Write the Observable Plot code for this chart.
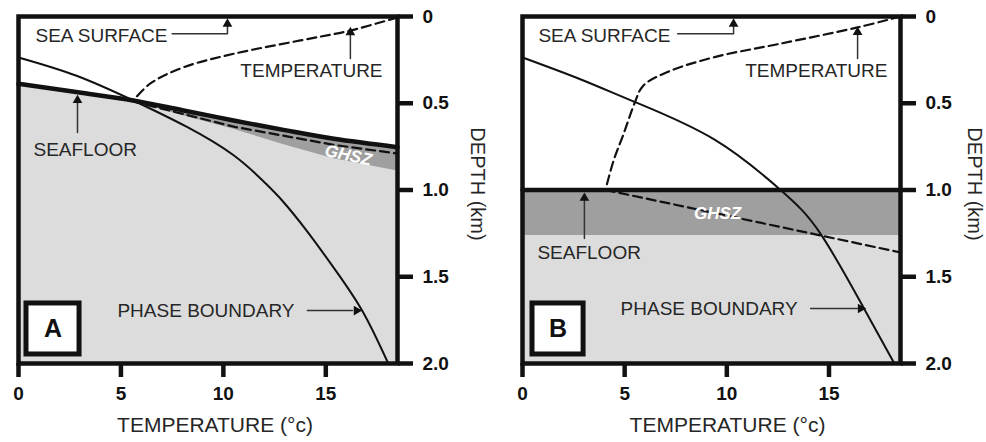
<!DOCTYPE html>
<html>
<head>
<meta charset="utf-8">
<script src="https://cdn.jsdelivr.net/npm/d3@7"></script>
<script src="https://cdn.jsdelivr.net/npm/@observablehq/plot@0.6"></script>
<style>
  html, body { margin: 0; padding: 0; background: #fff; }
  #wrap { display: flex; flex-direction: row; width: 986px; height: 442px; }
</style>
</head>
<body>
<div id="wrap"></div>
<script>
// ---------- axis ticks ----------
const tempTicks = [0, 5, 10, 15];
const depthTicks = [0, 0.5, 1.0, 1.5, 2.0];
const depthTickLabels = ["0", "0.5", "1.0", "1.5", "2.0"];
const xLabel = "TEMPERATURE (°c)";
const yLabel = "DEPTH (km)";
const panelNames = ["A", "B"];
const annotationTexts = ["SEA SURFACE", "TEMPERATURE", "SEAFLOOR", "PHASE BOUNDARY"];
const ghszText = "GHSZ";

// ---------- panel A ----------
const seafloorA_T = [0, 2.9, 5.6, 8, 10.5, 13, 15.4, 18.5];
const seafloorA_D = [0.388, 0.437, 0.484, 0.54, 0.599, 0.655, 0.705, 0.753];
const ghszA_T = [5.6, 8, 10.5, 13, 15.4, 18.5];
const ghszA_top = [0.484, 0.54, 0.599, 0.655, 0.705, 0.753];
const ghszA_bot = [0.49, 0.57, 0.65, 0.74, 0.82, 0.89];
const phaseA_T = [0, 2.8, 5.6, 8.2, 10.5, 12.0, 12.9, 14.1, 15.4, 16.8, 18.05];
const phaseA_D = [0.236, 0.34, 0.484, 0.635, 0.80, 0.955, 1.065, 1.24, 1.45, 1.70, 2.0];
const tempA_T = [18.5, 16.2, 13.76, 10.5, 8.05, 6.44, 5.6];
const tempA_D = [0.005, 0.081, 0.138, 0.215, 0.293, 0.386, 0.484];
const subTempA_T = [5.6, 10.5, 15.4, 18.5];
const subTempA_D = [0.49, 0.635, 0.74, 0.79];

// ---------- panel B ----------
const seafloorB_T = [0, 18.5];
const seafloorB_D = [1.0, 1.0];
const ghszB_T = [0, 18.5];
const ghszB_top = [1.0, 1.0];
const ghszB_bot = [1.262, 1.262];
const phaseB_T = [0, 2.8, 5.54, 9.4, 12.63, 14.59, 16.7, 18.2];
const phaseB_D = [0.236, 0.36, 0.495, 0.71, 1.0, 1.253, 1.68, 2.0];
const tempB_T = [18.5, 16.4, 12.6, 9.4, 7.1, 5.9, 5.5, 4.95, 4.46, 4.07];
const tempB_D = [0.0, 0.063, 0.157, 0.234, 0.32, 0.40, 0.495, 0.676, 0.83, 0.995];
const subTempB_T = [4.07, 14.59, 18.5];
const subTempB_D = [1.0, 1.262, 1.36];

// ---------- annotation anchors (data coords: temperature, depth) ----------
const labelA_T = [0.83, 10.83, 0.73, 4.83];
const labelA_D = [0.11, 0.311, 0.767, 1.695];
const labelB_T = [0.78, 10.9, 0.73, 4.8];
const labelB_D = [0.11, 0.311, 1.36, 1.683];
const arrowsA = [
  [[7.5, 10.2, 10.2], [0.10, 0.10, 0.05]],
  [[16.2, 16.2], [0.242, 0.10]],
  [[2.88, 2.88], [0.669, 0.50]],
  [[14.1, 16.3], [1.695, 1.695]]
];
const headsA_T = [10.2, 16.2, 2.88, 16.5];
const headsA_D = [0.043, 0.092, 0.483, 1.695];
const arrowsB = [
  [[7.59, 10.33, 10.33], [0.10, 0.10, 0.05]],
  [[16.4, 16.4], [0.242, 0.10]],
  [[3.03, 3.03], [1.28, 1.06]],
  [[14.1, 16.4], [1.683, 1.683]]
];
const headsB_T = [10.33, 16.4, 3.03, 16.55];
const headsB_D = [0.043, 0.09, 1.046, 1.683];
const headRotate = [0, 0, 0, 90];
const boxA_T = [0.39, 2.98], boxA_D = [1.654, 1.948];
const boxB_T = [0.49, 2.99], boxB_D = [1.654, 1.948];
const ghszA_pos = [16.1, 0.80], ghszA_rot = 12;
const ghszB_pos = [9.55, 1.137], ghszB_rot = 0;

const zip = (xs, ys) => xs.map((x, i) => ({T: x, D: ys[i]}));
const FONT = "'Liberation Sans', Arial, Helvetica, sans-serif";

function panel(o) {
  const ink = "#111";
  const textInk = "#262626";
  const sea = o.seaT.map((t, i) => ({T: t, top: o.seaD[i], bot: 2}));
  const ghsz = o.gT.map((t, i) => ({T: t, top: o.gTop[i], bot: o.gBot[i]}));
  const labels = annotationTexts.map((s, i) => ({s, T: o.lT[i], D: o.lD[i]}));
  const heads = o.hT.map((t, i) => ({T: t, D: o.hD[i], r: headRotate[i]}));
  const arrowMarks = o.arrows.map(([ts, ds]) =>
    Plot.line(zip(ts, ds), {x: "T", y: "D", stroke: "#333", strokeWidth: 1.5}));
  return Plot.plot({
    width: o.width, height: 442,
    marginLeft: o.ml, marginRight: o.mr, marginTop: 16, marginBottom: 79,
    x: {domain: [0, 18.5]},
    y: {domain: [0, 2], reverse: true},
    style: {fontFamily: FONT, background: "#fff", overflow: "visible"},
    marks: [
      Plot.areaY(sea, {x: "T", y1: "top", y2: "bot", fill: "#dcdcdc"}),
      Plot.areaY(ghsz, {x: "T", y1: "top", y2: "bot", fill: "#9f9f9f"}),
      Plot.line(zip(o.subT, o.subD), {x: "T", y: "D", stroke: ink, strokeWidth: 2.2, strokeDasharray: "9,5"}),
      Plot.line(zip(o.tT, o.tD), {x: "T", y: "D", stroke: ink, strokeWidth: 2.2, strokeDasharray: "9,5", curve: "catmull-rom"}),
      Plot.line(zip(o.pT, o.pD), {x: "T", y: "D", stroke: ink, strokeWidth: 2, curve: "natural"}),
      Plot.line(zip(o.seaT, o.seaD), {x: "T", y: "D", stroke: ink, strokeWidth: 4.5, curve: "catmull-rom"}),
      Plot.text([ghszText], {x: () => o.gPos[0], y: () => o.gPos[1], text: d => d, fill: "#fff",
        fontWeight: "bold", fontStyle: "italic", fontSize: 17, rotate: o.gRot}),
      ...arrowMarks,
      Plot.dot(heads, {x: "T", y: "D", symbol: "triangle", r: 3.6, fill: "#111", stroke: "none", rotate: "r"}),
      Plot.text(labels, {x: "T", y: "D", text: "s", textAnchor: "start", fontSize: 19, fill: textInk}),
      Plot.rect([o.name], {x1: () => o.bT[0], x2: () => o.bT[1], y1: () => o.bD[0], y2: () => o.bD[1],
        fill: "#fff", stroke: ink, strokeWidth: 5}),
      Plot.text([o.name], {x: () => (o.bT[0] + o.bT[1]) / 2, y: () => (o.bD[0] + o.bD[1]) / 2,
        text: d => d, fontWeight: "bold", fontSize: 25, fill: ink}),
      Plot.axisX(tempTicks, {tickSize: 14, strokeWidth: 4.5, stroke: ink, fontSize: 19, fontWeight: "bold",
        fill: ink, tickPadding: 9, label: null, tickFormat: d => String(d)}),
      Plot.axisY(depthTicks, {anchor: "right", tickSize: 15, strokeWidth: 4.5, stroke: ink, fontSize: 19,
        fontWeight: "bold", fill: ink, tickPadding: 10, label: null,
        tickFormat: d => depthTickLabels[depthTicks.indexOf(d)]}),
      Plot.frame({stroke: ink, strokeWidth: 4.5}),
      Plot.text([xLabel], {frameAnchor: "bottom", dy: 68, dx: o.xdx, text: d => d, fontSize: 21, fill: textInk}),
      Plot.text([yLabel], {frameAnchor: "right", textAnchor: "middle", dx: o.ydx, dy: -6, rotate: 90,
        text: d => d, fontSize: 20, fill: textInk})
    ]
  });
}

const wrap = document.getElementById("wrap");
wrap.appendChild(panel({
  name: panelNames[0], width: 493, ml: 18, mr: 96,
  seaT: seafloorA_T, seaD: seafloorA_D,
  gT: ghszA_T, gTop: ghszA_top, gBot: ghszA_bot,
  pT: phaseA_T, pD: phaseA_D, tT: tempA_T, tD: tempA_D, subT: subTempA_T, subD: subTempA_D,
  lT: labelA_T, lD: labelA_D, arrows: arrowsA, hT: headsA_T, hD: headsA_D,
  bT: boxA_T, bD: boxA_D, gPos: ghszA_pos, gRot: ghszA_rot, xdx: 7, ydx: 80
}));
wrap.appendChild(panel({
  name: panelNames[1], width: 493, ml: 29, mr: 86,
  seaT: seafloorB_T, seaD: seafloorB_D,
  gT: ghszB_T, gTop: ghszB_top, gBot: ghszB_bot,
  pT: phaseB_T, pD: phaseB_D, tT: tempB_T, tD: tempB_D, subT: subTempB_T, subD: subTempB_D,
  lT: labelB_T, lD: labelB_D, arrows: arrowsB, hT: headsB_T, hD: headsB_D,
  bT: boxB_T, bD: boxB_D, gPos: ghszB_pos, gRot: ghszB_rot, xdx: 16, ydx: 74
}));
</script>
</body>
</html>
